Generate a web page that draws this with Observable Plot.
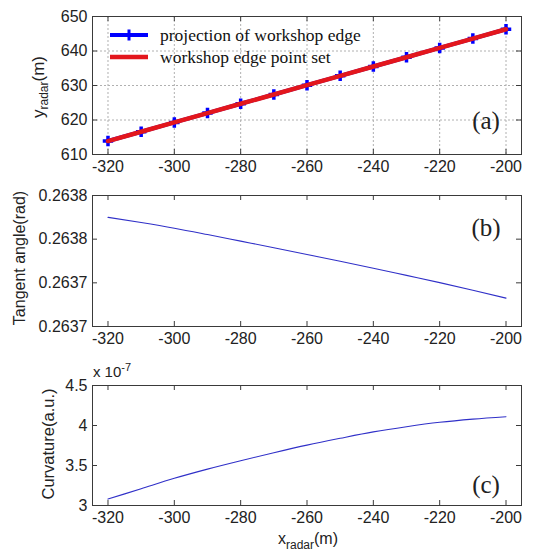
<!DOCTYPE html>
<html>
<head>
<meta charset="utf-8">
<script src="https://cdn.jsdelivr.net/npm/d3@7"></script>
<script src="https://cdn.jsdelivr.net/npm/@observablehq/plot@0.6"></script>
<style>
  html, body { margin: 0; padding: 0; background: #fff; }
  #wrap { position: relative; width: 545px; height: 554px; overflow: hidden; font-family: "Liberation Sans", Arial, sans-serif; color: #222; }
  #wrap svg.plot { position: absolute; left: 0; }
  .lbl { position: absolute; white-space: nowrap; font-size: 16px; line-height: 1; }
  .serif { font-family: "Liberation Serif", "Times New Roman", serif; }
</style>
</head>
<body>
<div id="wrap"></div>
<script>
// ---- data ----
const xTicks = [-320, -300, -280, -260, -240, -220, -200];
const xPts = [-320, -310, -300, -290, -280, -270, -260, -250, -240, -230, -220, -210, -200];
// (a) projection of workshop edge / workshop edge point set
const yEdge = [613.9, 616.6, 619.3, 622.0, 624.7, 627.4, 630.1, 632.8, 635.5, 638.2, 640.9, 643.6, 646.3];
const yTicksA = [610, 620, 630, 640, 650];
// (b) tangent angle (rad)
const yAngle = [0.2637700, 0.2637676, 0.2637650, 0.2637621, 0.2637591, 0.2637561, 0.2637530,
                0.2637499, 0.2637467, 0.2637434, 0.2637401, 0.2637366, 0.2637330];
const yTicksB = [0.26372, 0.26374, 0.26376, 0.26378];
// (c) curvature (x 1e-7)
const yCurv = [3.08, 3.21, 3.34, 3.455, 3.56, 3.66, 3.755, 3.84, 3.92, 3.985, 4.04, 4.08, 4.11];
const yTicksC = [3, 3.5, 4, 4.5];

const W = 545, ML = 92, MR = 24;
const xDomain = [-324.67, -195.33];
const frameColor = "#3a3a3a";
const wrap = document.getElementById("wrap");

function inwardTicks(innerW, innerH, yt) {
  const s = {stroke: frameColor, strokeWidth: 1};
  return [
    Plot.ruleX(xTicks, {x: d => d, insetTop: innerH - 5, ...s}),
    Plot.ruleX(xTicks, {x: d => d, insetBottom: innerH - 5, ...s}),
    Plot.ruleY(yt, {y: d => d, insetRight: innerW - 5, ...s}),
    Plot.ruleY(yt, {y: d => d, insetLeft: innerW - 5, ...s})
  ];
}

function panel(top, height, mt, mb, yDomain, yt, yFmt, marks, grid) {
  const innerW = W - ML - MR, innerH = height - mt - mb;
  const svg = Plot.plot({
    width: W, height,
    marginLeft: ML, marginRight: MR, marginTop: mt, marginBottom: mb,
    style: {fontFamily: "Liberation Sans, Arial, sans-serif", fontSize: "16px", color: "#222", background: "transparent", overflow: "visible"},
    x: {domain: xDomain},
    y: {domain: yDomain},
    marks: [
      ...(grid ? [
        Plot.gridX(xTicks, {stroke: "#b0b0b0", strokeOpacity: 1, strokeDasharray: "2,2"}),
        Plot.gridY(yt, {stroke: "#b0b0b0", strokeOpacity: 1, strokeDasharray: "2,2"})
      ] : []),
      ...marks,
      Plot.axisX({ticks: xTicks, tickSize: 0, tickPadding: 6, tickFormat: d => String(d), label: null, fontSize: 16}),
      Plot.axisY({ticks: yt, tickSize: 0, tickPadding: 5, tickFormat: yFmt, label: null, fontSize: 16}),
      ...inwardTicks(innerW, innerH, yt),
      Plot.frame({stroke: frameColor, strokeWidth: 1})
    ]
  });
  svg.classList.add("plot");
  svg.style.top = top + "px";
  wrap.appendChild(svg);
}

function label(html, cx, cy, rot, cls) {
  const d = document.createElement("div");
  d.className = "lbl " + (cls || "");
  d.innerHTML = html;
  d.style.left = cx + "px";
  d.style.top = cy + "px";
  d.style.transform = "translate(-50%,-50%)" + (rot ? " rotate(-90deg)" : "");
  wrap.appendChild(d);
  return d;
}

// (a)
panel(0, 180, 16, 26, [610, 650], yTicksA, d => String(d), [
  Plot.line(xPts, {x: d => d, y: (d, i) => yEdge[i], stroke: "#0000ff", strokeWidth: 4}),
  Plot.dot(xPts, {x: d => d, y: (d, i) => yEdge[i], symbol: "cross", r: 4.4, fill: "#0000ff", stroke: "none"}),
  Plot.line(xPts, {x: d => d, y: (d, i) => yEdge[i], stroke: "#e3161c", strokeWidth: 4.5})
], true);

// (b)
panel(180, 170, 15, 24, [0.26372, 0.26378], yTicksB, d3.format(".4f"), [
  Plot.line(xPts, {x: d => d, y: (d, i) => yAngle[i], stroke: "#3030c8", strokeWidth: 1.1, curve: "monotone-x"})
], false);

// (c)
panel(370, 184, 15, 49, [3, 4.5], yTicksC, d => String(d), [
  Plot.line(xPts, {x: d => d, y: (d, i) => yCurv[i], stroke: "#3030c8", strokeWidth: 1.1, curve: "monotone-x"})
], false);

// axis titles
label("y<sub style='font-size:12px'>radar</sub>(m)", 40, 87, true).style.fontSize = "17px";
label("Tangent angle(rad)", 20, 258, true);
label("Curvature(a.u.)", 48, 444, true).style.fontSize = "16.5px";
label("x<sub style='font-size:12px'>radar</sub>(m)", 308, 541, false);
label("x 10<sup style='font-size:11px'>-7</sup>", 112, 370, false).style.fontSize = "15px";

// panel tags
label("(a)", 486, 120, false, "serif").style.fontSize = "25px";
label("(b)", 486, 227, false, "serif").style.fontSize = "25px";
label("(c)", 486, 484, false, "serif").style.fontSize = "25px";

// legend
const leg = document.createElement("div");
leg.style.cssText = "position:absolute;left:108px;top:24px;font-family:'Liberation Serif','Times New Roman',serif;font-size:17.5px;line-height:22px;color:#111;";
leg.innerHTML =
  "<div style='display:flex;align-items:center;height:22px'>" +
    "<svg width='42' height='16' style='margin-right:10px'><line x1='2' y1='8' x2='40' y2='8' stroke='#0000ff' stroke-width='4'/>" +
    "<path d='M19.5,2.5h3v4h4v3h-4v4h-3v-4h-4v-3h4z' fill='#0000ff'/></svg>projection of workshop edge</div>" +
  "<div style='display:flex;align-items:center;height:22px'>" +
    "<svg width='42' height='16' style='margin-right:10px'><line x1='2' y1='8' x2='40' y2='8' stroke='#e3161c' stroke-width='4.5'/></svg>workshop edge point set</div>";
wrap.appendChild(leg);
</script>
</body>
</html>
